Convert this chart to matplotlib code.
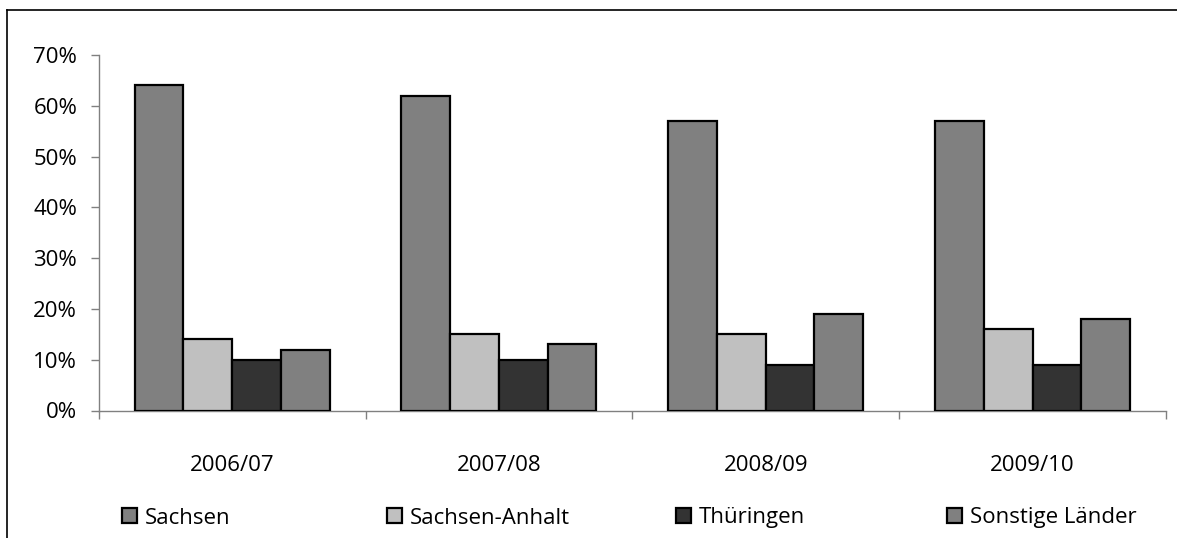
import numpy as np
import matplotlib.pyplot as plt
from matplotlib.patches import Patch
from matplotlib.lines import Line2D
from matplotlib.ticker import FuncFormatter, FixedLocator

plt.rcParams['font.family'] = ['Open Sans', 'DejaVu Sans']

# Daten
jahre = ['2006/07', '2007/08', '2008/09', '2009/10']
laender = ['Sachsen', 'Sachsen-Anhalt', 'Thüringen', 'Sonstige Länder']
sachsen = [64, 62, 57, 57]
sachsen_anhalt = [14, 15, 15, 16]
thueringen = [10, 10, 9, 9]
sonstige = [12, 13, 19, 18]
farben = ['#808080', '#c0c0c0', '#333333', '#808080']

W, H = 1177, 538
fig = plt.figure(figsize=(W / 100, H / 100), dpi=100)
ax = fig.add_axes([98.7 / W, (H - 410.5) / H, (1166 - 98.7) / W, (410.5 - 55) / H])

x = np.arange(len(jahre))
breite = 0.1826
reihen = [sachsen, sachsen_anhalt, thueringen, sonstige]
for i, (werte, farbe) in enumerate(zip(reihen, farben)):
    ax.bar(x + (i - 1.5) * breite, werte, width=breite, color=farbe,
           edgecolor='black', linewidth=1.6, zorder=3)

ax.set_xlim(-0.5, len(jahre) - 0.5)
ax.set_ylim(0, 70)
ax.set_yticks(np.arange(0, 71, 10))
ax.yaxis.set_major_formatter(FuncFormatter(lambda v, p: f'{v:.0f}%'))

# Striche an den Kategoriegrenzen, Beschriftung in der Mitte
ax.xaxis.set_major_locator(FixedLocator(np.arange(-0.5, len(jahre), 1.0)))
ax.xaxis.set_minor_locator(FixedLocator(x))
ax.set_xticklabels([], minor=False)
ax.set_xticklabels(jahre, minor=True)
ax.tick_params(axis='x', which='major', direction='out', length=6, width=1, color='#808080')
ax.tick_params(axis='x', which='minor', length=0, pad=32, labelsize=16)
ax.tick_params(axis='y', direction='out', length=6, width=1, color='#808080', pad=9.5, labelsize=16)

for s in ['top', 'right']:
    ax.spines[s].set_visible(False)
for s in ['left', 'bottom']:
    ax.spines[s].set_color('#808080')
    ax.spines[s].set_linewidth(1)

# Legende: einzelne Einträge wie im Original verteilt
legend_x = [122, 387, 676, 947]
for name, farbe, lx in zip(laender, farben, legend_x):
    h = Patch(facecolor=farbe, edgecolor='black', linewidth=1.6)
    fig.legend(handles=[h], labels=[name], loc='center left',
               bbox_to_anchor=(lx / W, (H - 518) / H), frameon=False,
               borderpad=0, borderaxespad=0, handlelength=0.68, handleheight=0.68,
               handletextpad=0.35, fontsize=16)

# Rahmen (rechts und unten abgeschnitten)
fig.add_artist(Line2D([7 / W, 7 / W], [0, (H - 10) / H], color='black', lw=1.2))
fig.add_artist(Line2D([7 / W, 1], [(H - 10) / H, (H - 10) / H], color='black', lw=1.2))

fig.savefig('out.png', dpi=100)
